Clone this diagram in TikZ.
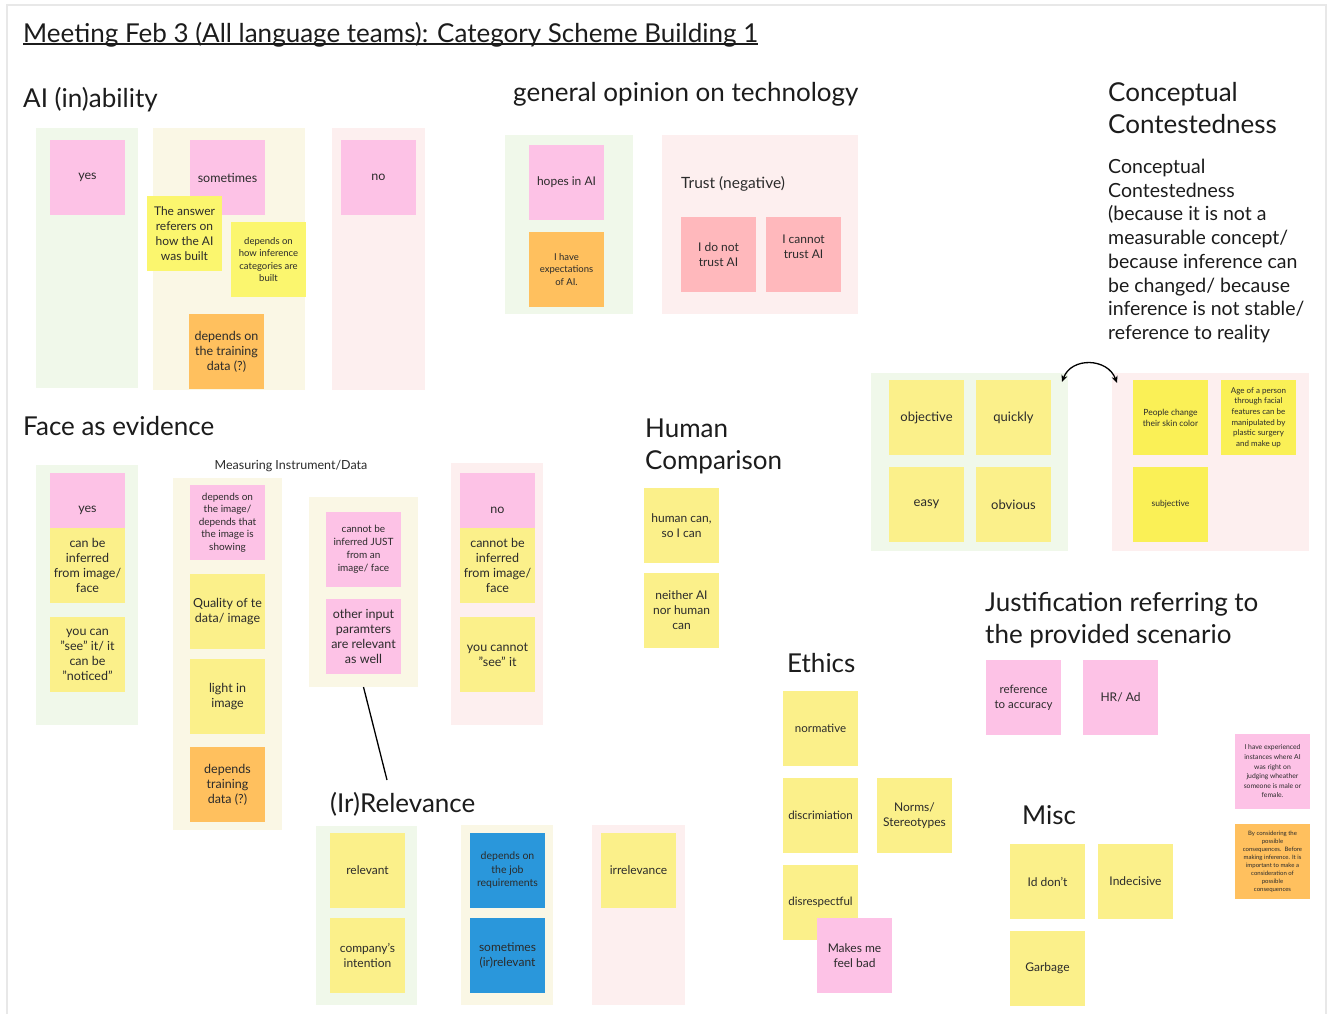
\documentclass[tikz,border=0pt]{standalone}
\usepackage{fontspec}
\setmainfont{Lato}
\usetikzlibrary{arrows.meta,calc}

% sticky-note and board colours
\definecolor{stkpink}{HTML}{FDC2E6}
\definecolor{stkyel}{HTML}{FBF08A}
\definecolor{stkbright}{HTML}{FBF66E}
\definecolor{stkvivid}{HTML}{FAF056}
\definecolor{stkorange}{HTML}{FFC05E}
\definecolor{stksalmon}{HTML}{FFB8BC}
\definecolor{stkblue}{HTML}{2A97DB}
\definecolor{grpgreen}{HTML}{F0F8EA}
\definecolor{grpcream}{HTML}{FAF7E5}
\definecolor{grppink}{HTML}{FDEFEF}
\definecolor{inkdark}{HTML}{2B2B2B}
\definecolor{inkhead}{HTML}{1C1C1C}
\definecolor{framegray}{HTML}{E8E8E8}

\newcommand\fsz[2]{\fontsize{#1}{#2}\selectfont}

\tikzset{
  grpbox/.style={draw=none, inner sep=0pt, outer sep=0pt},
  sticky/.style={draw=none, minimum width=75pt, minimum height=75pt, inner sep=0pt,
                 align=center, text=inkdark, font=\fsz{12.5}{15}},
  smalltext/.style={font=\fsz{9.5}{12.4}},
  heading/.style={anchor=base west, inner sep=0pt, text=inkhead, font=\fsz{26}{32}},
  headingml/.style={anchor=north west, inner sep=0pt, text=inkhead, font=\fsz{26}{32}, align=left},
  connector/.style={line width=1.3pt, black},
  twoway/.style={line width=1.3pt, black, {Stealth[length=7pt,width=6pt]}-{Stealth[length=7pt,width=6pt]}},
}

% group background: name, x1, y1, x2, y2, colour
\newcommand\grp[6]{\node[grpbox, fill=#6, minimum width={(#4)-(#2)}, minimum height={(#5)-(#3)}]
  (#1) at ({((#2)+(#4))/2},{((#3)+(#5))/2}) {};}
% sticky note: [options], name, left x, top y, colour, text
\newcommand\stk[6][]{\node[sticky, fill=#5, #1] (#2) at ({#3+37.5},{#4+37.5}) {#6};}

\begin{document}
\begin{tikzpicture}[x=1pt, y=-1pt]
\useasboundingbox (0,0) rectangle (1328,1013);
\fill[white] (0,0) rectangle (1328,1013);
\draw[framegray, line width=2pt] (7,1020) -- (7,5) -- (1326,5) -- (1326,1020);

% ---------- title ----------
\node[heading, font=\fsz{26}{30}] (title) at (23,42) {Meeting Feb 3 (All language teams): Category Scheme Building 1};
\draw[line width=1.1pt, inkhead] ([yshift=-2pt]title.base west) -- ([yshift=-2pt]title.base east);

% ---------- AI (in)ability ----------
\node[heading] (hAI) at (23,107) {AI (in)ability};
\grp{aig1}{36}{128}{138}{388}{grpgreen}
\grp{aig2}{153}{128}{305}{390}{grpcream}
\grp{aig3}{332}{128}{425}{390}{grppink}
\stk{aiyes}{50}{140}{stkpink}{yes}
\stk{aisome}{190}{140}{stkpink}{sometimes}
\stk[font=\fsz{12}{15}]{aibuilt}{147}{196}{stkbright}{The answer\\referers on\\how the AI\\was built}
\stk[smalltext]{aicat}{231}{222}{stkbright}{depends on\\how inference\\categories are\\built}
\stk{aitrain}{189}{314}{stkorange}{depends on\\the training\\data (?)}
\stk{aino}{341}{140}{stkpink}{no}

% ---------- general opinion on technology ----------
\node[heading] (hGen) at (513,101) {general opinion on technology};
\grp{gog1}{505}{135}{633}{314}{grpgreen}
\grp{gog2}{662}{135}{858}{314}{grppink}
\stk[font=\fsz{12}{15}]{hopes}{529}{145}{stkpink}{hopes in AI}
\stk[smalltext]{expect}{529}{232}{stkorange}{I have\\expectations\\of AI.}
\node[anchor=base west, inner sep=0pt, text=inkdark, font=\fsz{15.5}{18}] (trust) at (681,188) {Trust (negative)};
\stk[font=\fsz{12}{15}]{dontrust}{681}{217}{stksalmon}{I do not\\trust AI}
\stk[font=\fsz{12}{15}]{cantrust}{766}{217}{stksalmon}{I cannot\\trust AI\\~}

% ---------- Conceptual Contestedness ----------
\node[headingml] (hConc) at (1108,82) {Conceptual\\Contestedness};
\node[anchor=north west, inner sep=0pt, align=left, text=inkhead, font=\fsz{19.5}{23.7}] (concbody) at (1108,159)
  {Conceptual\\Contestedness\\(because it is not a\\measurable concept/\\because inference can\\be changed/ because\\inference is not stable/\\reference to reality};
\grp{cc1}{871}{373}{1068}{551}{grpgreen}
\grp{cc2}{1112}{373}{1309}{551}{grppink}
\stk[font=\fsz{13}{15}]{objective}{889}{380}{stkyel}{objective}
\stk[font=\fsz{13}{15}]{quickly}{976}{380}{stkyel}{quickly}
\stk[font=\fsz{13}{15}]{easy}{889}{467}{stkyel}{easy}
\stk[font=\fsz{13}{15}]{obvious}{976}{467}{stkyel}{obvious}
\stk[font=\fsz{8.5}{11}]{skin}{1133}{380}{stkvivid}{People change\\their skin color}
\stk[font=\fsz{8}{10.6}]{age}{1221}{380}{stkvivid}{Age of a person\\through facial\\features can be\\manipulated by\\plastic surgery\\and make up}
\stk[font=\fsz{8.5}{11}]{subj}{1133}{467}{stkvivid}{subjective}
\draw[twoway] ($(cc1.north east)+(-6,9)$) to[out=70, in=110, looseness=1.25] ($(cc2.north west)+(5,10)$);

% ---------- Face as evidence ----------
\node[heading] (hFace) at (23,435) {Face as evidence};
\node[anchor=base, inner sep=0pt, text=inkdark, font=\fsz{12.5}{15}] (measure) at (291,469) {Measuring Instrument/Data};
\grp{fg1}{36}{465}{138}{725}{grpgreen}
\grp{fg2}{173}{478}{282}{830}{grpcream}
\grp{fg3}{309}{497}{418}{687}{grpcream}
\grp{fg4}{451}{463}{543}{725}{grppink}
\stk{fyes}{50}{473}{stkpink}{yes}
\stk{fcan}{50}{528}{stkyel}{can be\\inferred\\from image/\\face}
\stk{fsee}{50}{617}{stkyel}{you can\\"see" it/ it\\can be\\"noticed"}
\stk[font=\fsz{10}{12.6}]{fimg}{190}{485}{stkpink}{depends on\\the image/\\depends that\\the image is\\showing}
\stk{fqual}{190}{574}{stkyel}{Quality of te\\data/ image}
\stk{flight}{190}{659}{stkyel}{light in\\image}
\stk{ftrain}{190}{747}{stkorange}{depends\\training\\data (?)}
\stk[font=\fsz{10}{13}]{fjust}{326}{512}{stkpink}{cannot be\\inferred JUST\\from an\\image/ face}
\stk{fother}{326}{599}{stkpink}{other input\\paramters\\are relevant\\as well}
\stk{fno}{460}{473}{stkpink}{no}
\stk{fcannot}{460}{528}{stkyel}{cannot be\\inferred\\from image/\\face}
\stk{fcansee}{460}{617}{stkyel}{you cannot\\"see" it}

% ---------- (Ir)Relevance ----------
\node[heading] (hRel) at (330,812) {(Ir)Relevance};
\coordinate (relend) at (387,780);
\draw[connector] (fg3.south) -- (relend);
\grp{rg1}{316}{826}{417}{1005}{grpgreen}
\grp{rg2}{461}{825}{553}{1005}{grpcream}
\grp{rg3}{592}{825}{685}{1005}{grppink}
\stk[font=\fsz{12}{15}]{relv}{330}{833}{stkyel}{relevant}
\stk[font=\fsz{12}{15}]{intent}{330}{918}{stkyel}{company's\\intention}
\stk[font=\fsz{10.5}{13.5}]{job}{470}{833}{stkblue}{depends on\\the job\\requirements}
\stk[font=\fsz{12}{15}]{sometimes2}{470}{918}{stkblue}{sometimes\\(ir)relevant}
\stk[font=\fsz{12}{15}]{irrel}{601}{833}{stkyel}{irrelevance}

% ---------- Human Comparison ----------
\node[headingml] (hHum) at (645,419) {Human\\Comparison};
\stk[font=\fsz{12}{15}]{humcan}{644}{488}{stkyel}{human can,\\so I can}
\stk[font=\fsz{12}{15}]{neither}{644}{573}{stkyel}{neither AI\\nor human\\can}

% ---------- Ethics ----------
\node[heading] (hEth) at (787,672) {Ethics};
\stk[font=\fsz{11.5}{14}]{normative}{783}{691}{stkyel}{normative}
\stk[font=\fsz{11.5}{14}]{discrim}{783}{778}{stkyel}{discrimiation}
\stk[font=\fsz{12}{15}]{norms}{877}{778}{stkyel}{Norms/\\Stereotypes}
\stk[font=\fsz{11.5}{14}]{disresp}{783}{865}{stkyel}{disrespectful}
\stk[font=\fsz{12}{15}]{feelbad}{817}{918}{stkpink}{Makes me\\feel bad}

% ---------- Justification ----------
\node[headingml] (hJust) at (985,592) {Justification referring to\\the provided scenario};
\stk[font=\fsz{11.5}{15}]{refacc}{986}{660}{stkpink}{reference\\to accuracy}
\stk[font=\fsz{12}{15}]{hrad}{1083}{660}{stkpink}{HR/ Ad}

% ---------- Misc ----------
\node[heading] (hMisc) at (1022,824) {Misc};
\stk[font=\fsz{12}{15}]{idont}{1010}{844}{stkyel}{Id don't}
\stk[font=\fsz{12}{15}]{indec}{1098}{844}{stkyel}{Indecisive}
\stk[font=\fsz{12}{15}]{garbage}{1010}{931}{stkyel}{Garbage}

% ---------- loose notes ----------
\stk[font=\fsz{6.8}{9.6}]{experienced}{1235}{734}{stkpink}{I have experienced\\instances where AI\\was right on\\judging wheather\\someone is male or\\female.}
\stk[font=\fsz{6}{8}]{consider}{1235}{824}{stkorange}{By considering the\\possible\\consequences.\ \ Before\\making inference. It is\\important to make a\\consideration of\\possible\\consequences}
\end{tikzpicture}
\end{document}
